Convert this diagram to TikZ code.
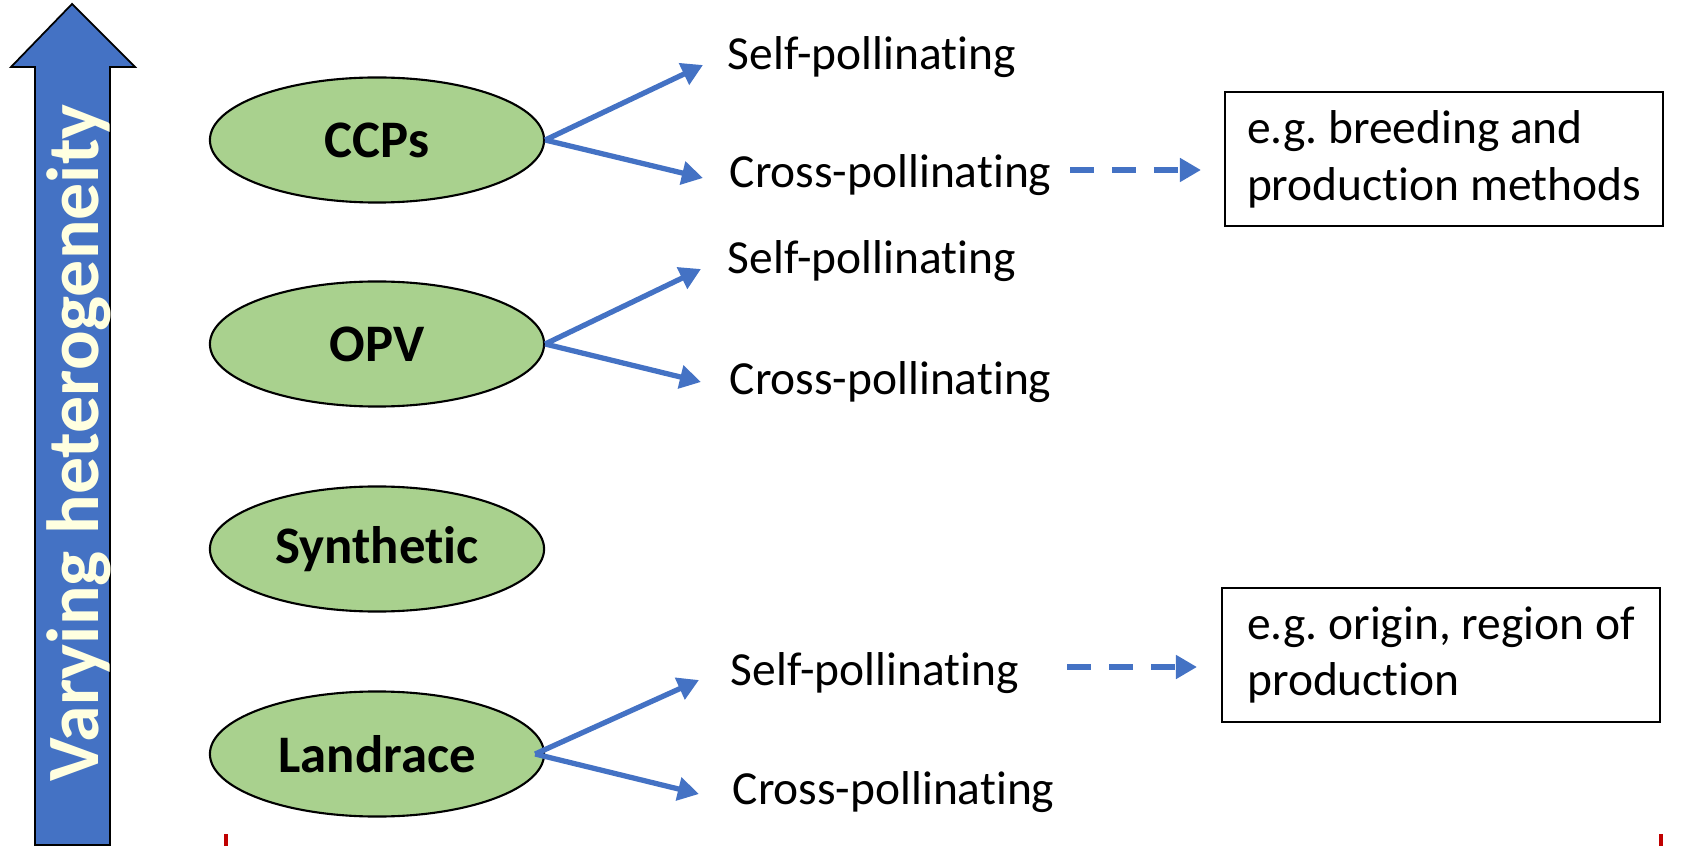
\documentclass[tikz,border=0pt]{standalone}
\usepackage{fontspec}
\setmainfont{Carlito}[Ligatures={NoCommon,NoContextual}]
\usetikzlibrary{arrows.meta,shapes.geometric,calc}
\definecolor{myblue}{HTML}{4472C4}
\definecolor{mygreen}{HTML}{A9D18E}
\definecolor{cream}{HTML}{FFFFE0}
\definecolor{myred}{HTML}{C00000}
\frenchspacing
\newcommand{\pol}{pollinat\kern0pt ing}
\begin{document}
\begin{tikzpicture}[x=0.01cm,y=-0.01cm,
 oval/.style={ellipse,draw=black,line width=0.6pt,fill=mygreen,minimum width=3.34cm,minimum height=1.25cm,inner sep=0pt,font=\fontsize{15}{18}\selectfont\bfseries},
 lbl/.style={anchor=west,inner sep=0pt,font=\fontsize{13.5}{16.2}\selectfont},
 conn/.style={draw=myblue,line width=1.5pt,-{Triangle[length=6pt,width=6.5pt]}},
 dconn/.style={conn,dash pattern=on 6.8pt off 5.1pt},
 note/.style={draw=black,line width=0.5pt,minimum width=4.38cm,minimum height=1.345cm,align=left,inner xsep=2mm,inner ysep=0pt,font=\fontsize{13.5}{16.2}\selectfont},
 bigarrow/.style={fill=myblue,draw=black,line width=0.5pt},
 tick/.style={draw=myred,line width=1.3pt}]
\useasboundingbox (0,0) rectangle (1688,846);

% big vertical arrow
\draw[bigarrow] (35,845) -- (35,67) -- (11,67) -- (72,4) -- (135,67) -- (110,67) -- (110,845) -- cycle;
\node[rotate=90,anchor=base,text=cream,font=\fontsize{21}{25}\selectfont\bfseries,inner sep=0pt] (vt) at (98,443) {Varying heterogeneity};

% ovals
\node[oval] (ccp) at (377,140) {CCPs};
\node[oval] (opv) at (377,344) {OPV};
\node[oval] (syn) at (377,549) {Synthetic};
\node[oval] (lan) at (377,754) {Landrace};

% labels
\node[lbl] (s1) at (727,57) {Self-\pol};
\node[lbl] (c1) at (729,175) {Cross-\pol};
\node[lbl] (s2) at (727,261) {Self-\pol};
\node[lbl] (c2) at (729,382) {Cross-\pol};
\node[lbl] (s3) at (730,673) {Self-\pol};
\node[lbl] (c3) at (732,792) {Cross-\pol};

% notes
\node[note] (b1) at (1444,159) {e.g. breeding and\\production methods};
\node[note] (b2) at (1441,655) {e.g. origin, region of\\production};

% connectors
\draw[conn] (ccp.east) -- ([shift={(-24,8)}]s1.west);
\draw[conn] (ccp.east) -- ([shift={(-26,3)}]c1.west);
\draw[conn] (opv.east) -- ([shift={(-26,8)}]s2.west);
\draw[conn] (opv.east) -- ([shift={(-28,0)}]c2.west);
\draw[conn] ([xshift=-1mm]lan.east) -- ([shift={(-31,7)}]s3.west);
\draw[conn] ([xshift=-1mm]lan.east) -- ([shift={(-33,2)}]c3.west);

\coordinate (e1) at (c1.east -| b1.west);
\coordinate (e2) at (s3.east -| b2.west);
\draw[dconn] ([shift={(18,-5)}]c1.east) -- ([shift={(-23,-5)}]e1);
\draw[dconn] ([shift={(48,-6)}]s3.east) -- ([shift={(-24,-6)}]e2);

% red ticks
\draw[tick] (226,834) -- (226,846);
\draw[tick] (1661,834) -- (1661,846);
\end{tikzpicture}
\end{document}
